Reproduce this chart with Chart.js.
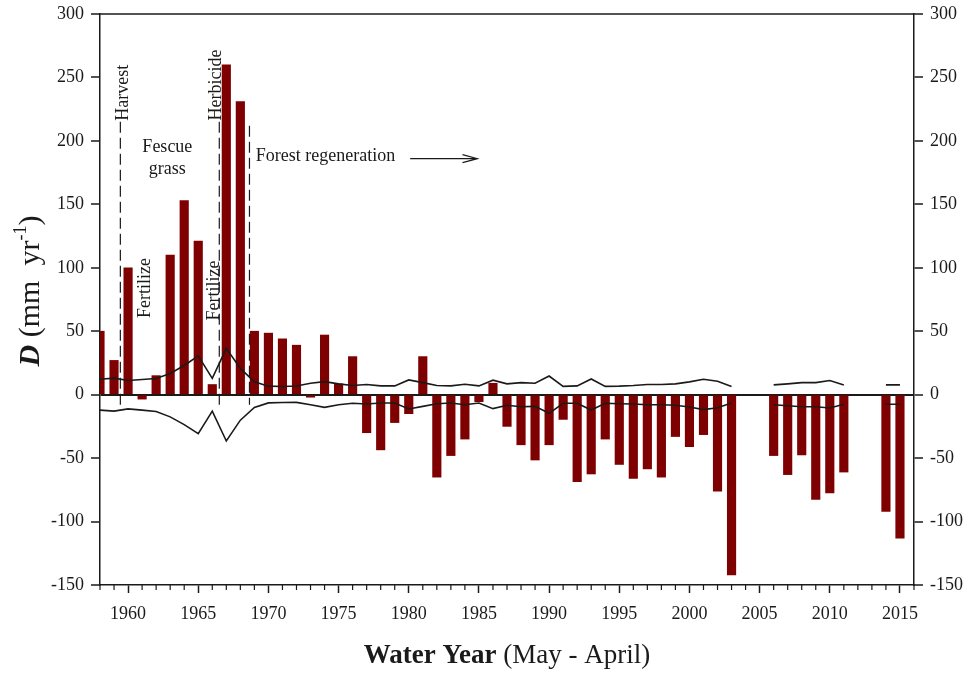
<!DOCTYPE html>
<html>
<head>
<meta charset="utf-8">
<script src="https://cdn.jsdelivr.net/npm/chart.js@4.4.0/dist/chart.umd.min.js"></script>
<style>
  html, body { margin: 0; padding: 0; background: #fff; }
  #wrap { width: 971px; height: 679px; position: relative; }
</style>
</head>
<body>
<div id="wrap"><canvas id="chart"></canvas></div>
<script>
// Water years (May - April)
const years = [
    1958, 1959, 1960, 1961, 1962, 1963, 1964, 1965, 1966, 1967,
    1968, 1969, 1970, 1971, 1972, 1973, 1974, 1975, 1976, 1977,
    1978, 1979, 1980, 1981, 1982, 1983, 1984, 1985, 1986, 1987,
    1988, 1989, 1990, 1991, 1992, 1993, 1994, 1995, 1996, 1997,
    1998, 1999, 2000, 2001, 2002, 2003, 2004, 2005, 2006, 2007,
    2008, 2009, 2010, 2011, 2012, 2013, 2014, 2015
];

// D (mm/yr), one bar per water year
const dValues = [
    50, 27, 100, -3.5, 15, 110, 153, 121, 8, 260,
    231, 50, 48.5, 44, 39, -2, 47, 8.5, 30, -30,
    -43.5, -22, -15, 30, -65, -48, -35, -5.5, 9, -25,
    -39.5, -51.5, -39.5, -19.5, -68.5, -62.5, -35, -55, -66, -58.5,
    -65, -33, -41, -31.5, -76, -142, null, null, -48, -63,
    -47.5, -82.5, -77.5, -61, null, null, -92, -113
];

// upper and lower bounds (black lines)
const upperBound = [
    12.2, 13, 11.2, 12, 12.8, 16.7, 23, 30.6, 12.8, 36.5,
    20.7, 10.1, 6.7, 6.4, 6.8, 9, 10.3, 8.5, 7.2, 8,
    6.9, 6.9, 11.6, 9.5, 7.2, 6.9, 8.2, 6.9, 11.4, 8.5,
    9.5, 9, 14.7, 6.5, 6.9, 12.4, 6.5, 6.7, 7.2, 8,
    8, 8.5, 10.1, 12.2, 10.6, 6.5, null, null, 7.7, 8.5,
    9.5, 9.5, 11.1, 7.7, null, null, 7.7, 7.7
];
const lowerBound = [
    -12.2, -13, -11.2, -12.2, -13.3, -17.5, -23.6, -30.7, -13, -36.5,
    -20.1, -10.1, -6.5, -6.2, -6.1, -7.9, -10, -8, -6.8, -7.4,
    -6.6, -6.6, -11.3, -9.2, -7.1, -6.6, -7.9, -6.6, -11, -8.4,
    -9.5, -9.2, -14.7, -6.8, -6.8, -12.1, -6.8, -7.1, -7.4, -7.9,
    -7.9, -8.4, -9.7, -11.8, -10.3, -6.6, null, null, -7.9, -8.7,
    -9.5, -9.5, -10.5, -7.6, null, null, -7.6, -7.6
];

const yTicks = [-150, -100, -50, 0, 50, 100, 150, 200, 250, 300];

const SERIF = '"Liberation Serif", "Times New Roman", serif';
const INK = '#1a1a1a';

const toPoints = (vals) => years.map((yr, i) => ({ x: yr, y: vals[i] }));

// Frame, minor ticks, treatment marks and axis titles
const overlay = {
    id: 'overlay',
    afterDraw(chart) {
        const { ctx, chartArea: a, scales } = chart;
        const xs = scales.x, ys = scales.y;
        const px = (v) => xs.getPixelForValue(v);
        const py = (v) => ys.getPixelForValue(v);

        ctx.save();
        ctx.strokeStyle = INK;
        ctx.fillStyle = INK;

        // top frame line
        ctx.lineWidth = 1.5;
        ctx.beginPath();
        ctx.moveTo(a.left - 0.75, a.top);
        ctx.lineTo(a.right + 0.75, a.top);
        ctx.stroke();

        // minor year ticks
        ctx.lineWidth = 1.2;
        for (let yr = xs.min; yr <= xs.max; yr++) {
            if (yr % 5 === 0) continue;
            const x = px(yr);
            ctx.beginPath();
            ctx.moveTo(x, a.bottom);
            ctx.lineTo(x, a.bottom + 5);
            ctx.stroke();
        }

        // dashed treatment lines
        ctx.lineWidth = 1.2;
        ctx.setLineDash([11, 5]);
        [[1959.45, 215], [1966.5, 215], [1968.65, 212]].forEach(([yr, top]) => {
            ctx.beginPath();
            ctx.moveTo(px(yr), py(top));
            ctx.lineTo(px(yr), py(-8));
            ctx.stroke();
        });
        ctx.setLineDash([]);

        // rotated labels
        ctx.font = '18px ' + SERIF;
        ctx.textAlign = 'center';
        ctx.textBaseline = 'middle';
        const vlabel = (text, yr, val) => {
            ctx.save();
            ctx.translate(px(yr), py(val));
            ctx.rotate(-Math.PI / 2);
            ctx.fillText(text, 0, 0);
            ctx.restore();
        };
        vlabel('Harvest', 1959.63, 238);
        vlabel('Herbicide', 1966.3, 244);
        vlabel('Fertilize', 1961.25, 84);
        vlabel('Fertilize', 1966.15, 82);

        ctx.fillText('Fescue', px(1962.8), py(195));
        ctx.fillText('grass', px(1962.8), py(177.5));

        ctx.textAlign = 'left';
        ctx.fillText('Forest regeneration', px(1969.1), py(188));

        // arrow
        const ay = py(186), ax1 = px(1980.1), ax2 = px(1984.9);
        ctx.lineWidth = 1.1;
        ctx.beginPath();
        ctx.moveTo(ax1, ay);
        ctx.lineTo(ax2, ay);
        ctx.moveTo(ax2 - 15, ay - 4);
        ctx.lineTo(ax2, ay);
        ctx.lineTo(ax2 - 15, ay + 4);
        ctx.stroke();

        // x axis title
        ctx.textBaseline = 'alphabetic';
        const boldPart = 'Water Year';
        const normPart = ' (May - April)';
        ctx.font = 'bold 27px ' + SERIF;
        const wb = ctx.measureText(boldPart).width;
        ctx.font = '27px ' + SERIF;
        const wn = ctx.measureText(normPart).width;
        const tx = (a.left + a.right) / 2 - (wb + wn) / 2;
        ctx.font = 'bold 27px ' + SERIF;
        ctx.fillText(boldPart, tx, 663);
        ctx.font = '27px ' + SERIF;
        ctx.fillText(normPart, tx + wb, 663);

        // y axis title, rotated
        const parts = [
            { t: 'D', f: 'italic bold 30px ' + SERIF, dy: 0 },
            { t: ' (mm  yr', f: '30px ' + SERIF, dy: 0 },
            { t: '-1', f: '18px ' + SERIF, dy: -13 },
            { t: ')', f: '30px ' + SERIF, dy: 0 }
        ];
        let total = 0;
        parts.forEach(p => { ctx.font = p.f; p.w = ctx.measureText(p.t).width; total += p.w; });
        ctx.save();
        ctx.translate(39, 291);
        ctx.rotate(-Math.PI / 2);
        let cx = -total / 2;
        parts.forEach(p => {
            ctx.font = p.f;
            ctx.fillText(p.t, cx, p.dy);
            cx += p.w;
        });
        ctx.restore();

        ctx.restore();
    }
};

const yScale = (position) => ({
    type: 'linear',
    position: position,
    min: -150,
    max: 300,
    afterBuildTicks: (s) => { s.ticks = yTicks.map(v => ({ value: v })); },
    afterFit: (s) => {
        s.width = position === 'left' ? 100 : 57;
        s.paddingTop = 0;
        s.paddingBottom = 0;
    },
    ticks: {
        font: { family: SERIF, size: 18 },
        color: INK,
        padding: 7
    },
    grid: {
        drawOnChartArea: position === 'left',
        color: (c) => (c.tick && c.tick.value === 0 ? INK : 'rgba(0,0,0,0)'),
        lineWidth: 2,
        drawTicks: true,
        tickLength: 9,
        tickColor: INK,
        tickWidth: 1.5
    },
    border: { display: true, color: INK, width: 1.5 }
});

const ctx = document.getElementById('chart').getContext('2d');
new Chart(ctx, {
    type: 'bar',
    data: {
        datasets: [
            {
                type: 'line',
                label: 'upper',
                data: toPoints(upperBound),
                borderColor: INK,
                borderWidth: 1.6,
                pointRadius: 0,
                spanGaps: false,
                tension: 0,
                order: 1
            },
            {
                type: 'line',
                label: 'lower',
                data: toPoints(lowerBound),
                borderColor: INK,
                borderWidth: 1.6,
                pointRadius: 0,
                spanGaps: false,
                tension: 0,
                order: 1
            },
            {
                type: 'bar',
                label: 'D',
                data: toPoints(dValues),
                backgroundColor: '#7f0000',
                borderWidth: 0,
                barThickness: 8.5,
                order: 2
            }
        ]
    },
    options: {
        responsive: true,
        maintainAspectRatio: false,
        animation: false,
        layout: { padding: { top: 14, left: 0, right: 0, bottom: 0 } },
        plugins: {
            legend: { display: false },
            tooltip: { enabled: false }
        },
        scales: {
            x: {
                type: 'linear',
                position: 'bottom',
                min: 1958,
                max: 2016,
                offset: false,
                afterFit: (s) => { s.height = 94; },
                ticks: {
                    stepSize: 1,
                    autoSkip: false,
                    maxRotation: 0,
                    font: { family: SERIF, size: 18 },
                    color: INK,
                    padding: 10,
                    callback: (v) => (v % 5 === 0 ? String(v) : '')
                },
                grid: {
                    offset: false,
                    drawOnChartArea: false,
                    drawTicks: true,
                    tickLength: 8,
                    tickWidth: 1.5,
                    tickColor: (c) => (c.tick && c.tick.value % 5 === 0 ? INK : 'rgba(0,0,0,0)')
                },
                border: { display: true, color: INK, width: 1.5 }
            },
            y: yScale('left'),
            y2: yScale('right')
        }
    },
    plugins: [overlay]
});
</script>
</body>
</html>
